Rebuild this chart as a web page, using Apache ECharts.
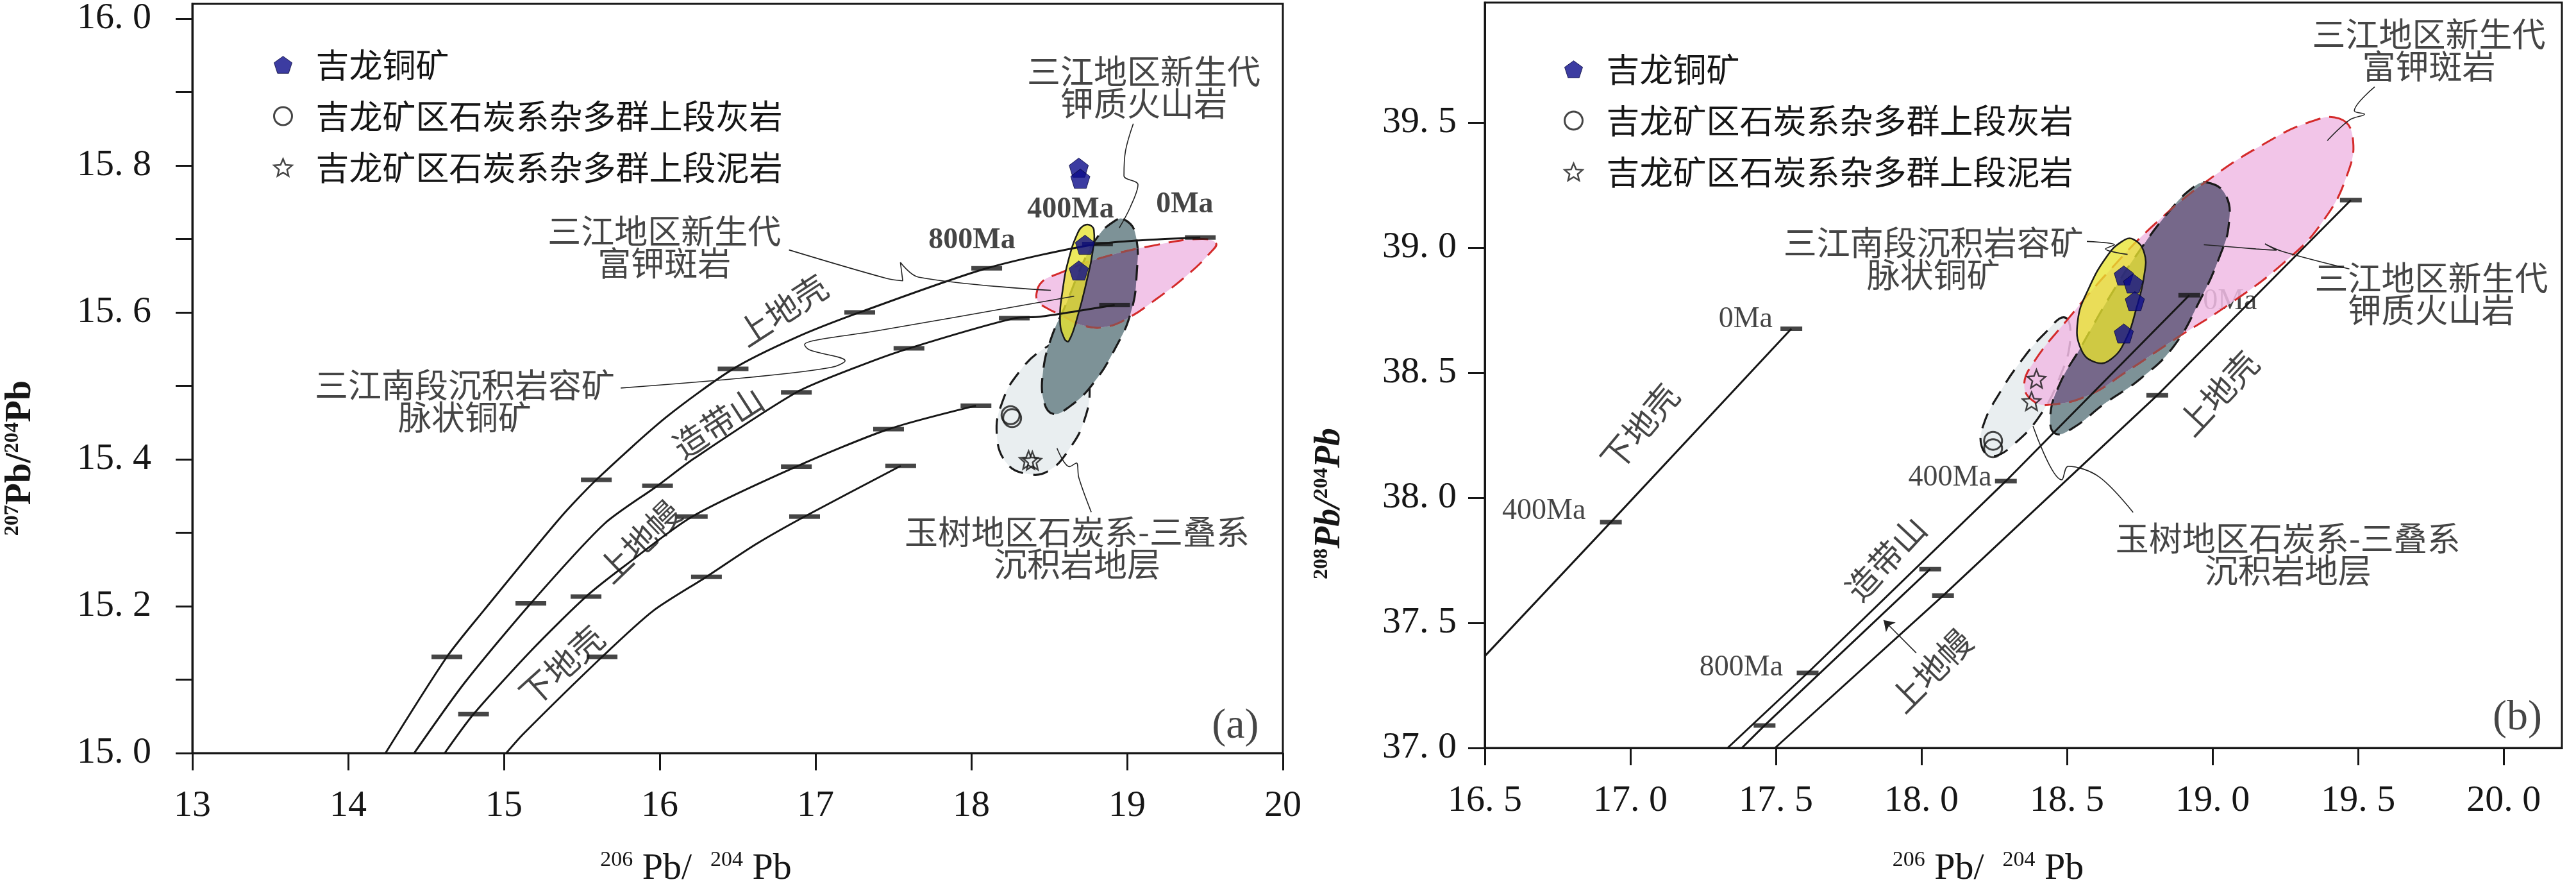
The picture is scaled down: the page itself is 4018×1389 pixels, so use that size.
<!DOCTYPE html>
<html><head><meta charset="utf-8">
<script src="https://cdn.jsdelivr.net/npm/echarts@6/dist/echarts.min.js"></script>
<style>html,body{margin:0;padding:0;background:#fff}#c{width:4018px;height:1389px}</style>
</head><body><div id="c"></div>
<script>
// ---------- tick values ----------
const aXTicks = [13,14,15,16,17,18,19,20];
const aYTicks = [15.0,15.1,15.2,15.3,15.4,15.5,15.6,15.7,15.8,15.9,16.0];
const aYLabels = [15.0,15.2,15.4,15.6,15.8,16.0];
const bXTicks = [16.5,17.0,17.5,18.0,18.5,19.0,19.5,20.0];
const bYTicks = [37.0,37.5,38.0,38.5,39.0,39.5];

// ---------- legend / sample names ----------
const nOre = '吉龙铜矿';
const nLime = '吉龙矿区石炭系杂多群上段灰岩';
const nMud = '吉龙矿区石炭系杂多群上段泥岩';

// ---------- panel (a) 207Pb/204Pb vs 206Pb/204Pb ----------
const aUpperCrust = [[14.24,15.000],[14.634,15.131],[14.87,15.194],[15.356,15.319],[15.593,15.372],[16.04,15.457],[16.471,15.523],[16.877,15.566],[17.284,15.600],[18.099,15.660],[18.81,15.693],[19.47,15.702]];
const aOrogene = [[14.424,15.000],[14.745,15.095],[15.173,15.204],[15.644,15.312],[15.986,15.364],[16.22,15.401],[16.877,15.491],[17.27,15.526],[17.60,15.551],[18.276,15.592],[18.44,15.594],[18.92,15.610]];
const aMantle = [[14.62,15.000],[14.805,15.053],[15.177,15.140],[15.527,15.213],[15.776,15.255],[16.209,15.322],[16.877,15.390],[17.469,15.441],[18.03,15.473]];
const aLowerCrust = [[15.015,15.000],[15.124,15.026],[15.63,15.131],[15.96,15.194],[16.30,15.240],[16.615,15.284],[16.93,15.322],[17.547,15.391]];
const aUpperTicks = [[14.634,15.131],[15.593,15.372],[16.471,15.523],[17.284,15.600],[18.099,15.660],[18.81,15.693],[19.47,15.702]];
const aOrogeneTicks = [[15.173,15.204],[15.986,15.364],[16.877,15.491],[17.60,15.551],[18.276,15.592],[18.92,15.610]];
const aMantleTicks = [[14.805,15.053],[15.527,15.213],[16.209,15.322],[16.877,15.390],[17.469,15.441],[18.03,15.473]];
const aLowerTicks = [[15.63,15.131],[16.30,15.240],[16.93,15.322],[17.547,15.391]];

const aYushu = [[18.608,15.561],[18.721,15.541],[18.759,15.502],[18.730,15.456],[18.626,15.413],[18.494,15.384],[18.362,15.380],[18.230,15.394],[18.164,15.433],[18.201,15.479],[18.305,15.518],[18.456,15.549]];
const aKVolc = [[18.976,15.727],[19.052,15.708],[19.061,15.650],[19.023,15.599],[18.929,15.553],[18.778,15.502],[18.626,15.471],[18.523,15.462],[18.466,15.479],[18.460,15.518],[18.513,15.565],[18.608,15.611],[18.721,15.669],[18.815,15.704],[18.910,15.723]];
const aKPorph = [[18.419,15.626],[18.456,15.642],[18.551,15.652],[18.815,15.673],[19.193,15.692],[19.477,15.700],[19.571,15.694],[19.533,15.681],[19.382,15.650],[19.193,15.619],[19.004,15.592],[18.853,15.580],[18.721,15.582],[18.589,15.595],[18.475,15.607],[18.428,15.615]];
const aSedCu = [[18.759,15.719],[18.787,15.712],[18.778,15.681],[18.740,15.642],[18.683,15.595],[18.626,15.561],[18.598,15.564],[18.570,15.588],[18.589,15.634],[18.626,15.673],[18.683,15.708],[18.721,15.718]];

const aOre = [[18.69,15.797],[18.70,15.782],[18.73,15.692],[18.69,15.657]];
const aLime = [[18.252,15.460],[18.262,15.456]];
const aMud = [[18.368,15.399],[18.392,15.398]];

const aLeaders = [
  [[19.04,15.857],[18.99,15.820],[18.98,15.786],[19.07,15.774],[19.02,15.743],[18.95,15.715]],
  [[16.83,15.685],[17.46,15.646],[17.56,15.643],[17.545,15.668],[17.66,15.648],[18.51,15.630]],
  [[15.75,15.497],[16.60,15.512],[17.10,15.525],[17.19,15.534],[16.96,15.549],[16.93,15.556],[17.00,15.562],[17.40,15.575],[18.66,15.622]],
  [[18.55,15.415],[18.63,15.390],[18.675,15.395],[18.69,15.375],[18.77,15.328]]
];
const aNotes = [
  [19.107,15.906,'三江地区新生代\n钾质火山岩'],
  [16.03,15.689,'三江地区新生代\n富钾斑岩'],
  [14.749,15.479,'三江南段沉积岩容矿\n脉状铜矿'],
  [18.679,15.279,'玉树地区石炭系-三叠系\n沉积岩地层']
];
const aCurveNames = [[16.786,15.603,'上地壳'],[16.374,15.45,'造带山'],[15.868,15.288,'上地幔'],[15.37,15.119,'下地壳']];
const aCurveNameRot = [33,33,44,42];
const aAges = [[18.004,15.698,'800Ma'],[18.638,15.740,'400Ma'],[19.37,15.747,'0Ma']];
const aPanel = [[19.695,15.036,'(a)']];

// ---------- panel (b) 208Pb/204Pb vs 206Pb/204Pb ----------
const bLowerCrust = [[16.5,37.367],[16.933,37.903],[17.553,38.676]];
const bOrogene = [[17.334,37.0],[17.609,37.30],[18.29,38.067],[18.92,38.81]];
const bMantle = [[17.383,37.0],[17.461,37.09],[18.03,37.715]];
const bUpperCrust = [[17.497,37.0],[18.074,37.609],[18.81,38.41],[19.475,39.19]];
const bLowerTicks = [[16.933,37.903],[17.553,38.676]];
const bOrogeneTicks = [[17.609,37.30],[18.29,38.067],[18.92,38.81]];
const bMantleTicks = [[17.461,37.09],[18.03,37.715]];
const bUpperTicks = [[18.074,37.609],[18.81,38.41],[19.475,39.19]];

const bYushu = [[18.492,38.721],[18.511,38.631],[18.473,38.476],[18.410,38.334],[18.321,38.218],[18.245,38.166],[18.207,38.205],[18.214,38.295],[18.271,38.424],[18.347,38.554],[18.423,38.657]];
const bKVolc = [[18.980,39.261],[19.044,39.212],[19.056,39.096],[19.025,38.967],[18.955,38.786],[18.866,38.605],[18.752,38.476],[18.625,38.373],[18.524,38.282],[18.461,38.256],[18.442,38.321],[18.473,38.450],[18.549,38.605],[18.651,38.812],[18.752,38.993],[18.853,39.148],[18.930,39.238]];
const bKPorph = [[19.436,39.516],[19.481,39.445],[19.462,39.290],[19.373,39.096],[19.246,38.941],[19.056,38.773],[18.866,38.631],[18.701,38.502],[18.575,38.411],[18.448,38.373],[18.385,38.386],[18.353,38.450],[18.385,38.541],[18.499,38.709],[18.651,38.915],[18.803,39.096],[18.993,39.277],[19.183,39.419],[19.335,39.503]];
const bSedCu = [[18.727,39.034],[18.765,38.980],[18.765,38.889],[18.739,38.760],[18.701,38.631],[18.651,38.554],[18.600,38.541],[18.549,38.592],[18.537,38.709],[18.575,38.838],[18.638,38.967],[18.689,39.025]];

const bOre = [[18.695,38.889],[18.727,38.857],[18.733,38.786],[18.695,38.657]];
const bLime = [[18.246,38.228],[18.246,38.198]];
const bMud = [[18.395,38.476],[18.378,38.386]];

const bLeaders = [
  [[19.557,39.643],[19.487,39.547],[19.522,39.534],[19.471,39.511],[19.394,39.428]],
  [[19.47,38.915],[19.24,38.985],[19.18,39.015],[19.22,38.99],[19.15,38.995],[18.97,39.012]],
  [[18.568,39.025],[18.663,39.012],[18.632,38.995],[18.708,38.973]],
  [[18.383,38.287],[18.482,38.072],[18.504,38.126],[18.61,38.084],[18.727,37.942]]
];
const bArrow = [[17.982,37.380],[17.870,37.511]];
const bNotes = [
  [19.743,39.79,'三江地区新生代\n富钾斑岩'],
  [19.752,38.815,'三江地区新生代\n钾质火山岩'],
  [18.041,38.957,'三江南段沉积岩容矿\n脉状铜矿'],
  [19.259,37.775,'玉树地区石炭系-三叠系\n沉积岩地层']
];
const bCurveNames = [[17.032,38.283,'下地壳'],[17.877,37.757,'造带山'],[18.032,37.309,'上地幔'],[19.019,38.418,'上地壳']];
const bCurveNameRot = [50,47,45,47];
const bAges = [[17.396,38.714,'0Ma'],[16.703,37.947,'400Ma'],[17.381,37.322,'800Ma'],[18.098,38.081,'400Ma'],[19.06,38.785,'0Ma']];
const bPanel = [[20.047,37.119,'(b)']];

// ---------- styling ----------
const SERIF = "'Liberation Serif','Times New Roman',serif";
const CJK = "'Noto Sans CJK SC','Noto Sans CJK JP',sans-serif";
const INK = '#161616';
const PENT = 'path://M0,-10L9.51,-3.09L5.88,8.09L-5.88,8.09L-9.51,-3.09Z';
const STAR = 'path://M0,-10L2.645,-3.64L9.51,-3.09L4.28,1.39L5.88,8.09L0,4.5L-5.88,8.09L-4.28,1.39L-9.51,-3.09L-2.645,-3.64Z';
const oreStyle = {color:'#0b0b8a', borderColor:'#04043a', borderWidth:1};
const limeStyle = {color:'rgba(255,255,255,0)', borderColor:INK, borderWidth:3};
const mudStyle = {color:'rgba(255,255,255,0)', borderColor:INK, borderWidth:2.5};
const SMOOTH = 0.45;

function fmtDot(v){ return v.toFixed(1).replace('.', '. '); }
function near(arr, v){ return arr.some(t => Math.abs(t - v) < 1e-6); }

function xAxisOf(gi, min, max, interval, ticks, fmt, nameGap, shiftW){
  return {
    gridIndex: gi, type:'value', min, max, interval,
    axisLine:{show:true, onZero:false, lineStyle:{color:INK, width:3}},
    axisTick:{show:true, inside:false, length:27, lineStyle:{color:INK, width:3}, customValues: ticks},
    axisLabel:{show:true, margin:54, color:INK, fontSize:58, fontFamily:SERIF, customValues: ticks,
      formatter: v => near(ticks, v) ? fmt(v) : ''},
    splitLine:{show:false},
    name:'{s|206}{n| Pb/  }{s|204}{n| Pb}{g| }', nameLocation:'middle', nameGap,
    nameTextStyle:{color:INK, rich:{
      s:{fontSize:34, fontFamily:SERIF, color:INK, verticalAlign:'top', lineHeight:30},
      n:{fontSize:58, fontFamily:SERIF, color:INK, lineHeight:62},
      g:{width:shiftW, fontSize:10, lineHeight:10, color:'rgba(0,0,0,0)'}}}
  };
}
function yAxisOf(gi, min, max, interval, ticks, labels, margin, sup, nameGap, padR, italic){
  return {
    gridIndex: gi, type:'value', min, max, interval,
    axisLine:{show:true, onZero:false, lineStyle:{color:INK, width:3}},
    axisTick:{show:true, inside:false, length:26, lineStyle:{color:INK, width:3}, customValues: ticks},
    axisLabel:{show:true, margin, color:INK, fontSize:58, fontFamily:SERIF, customValues: labels,
      formatter: v => near(labels, v) ? fmtDot(v) : ''},
    splitLine:{show:false},
    name:'{s|' + sup + '}{n|Pb/}{s|204}{n|Pb}', nameLocation:'middle', nameRotate:90, nameGap,
    nameTextStyle:{color:INK, padding:[0,padR,0,0], rich:{
      s:{fontSize:32, fontFamily:SERIF, fontWeight:'bold', color:INK, verticalAlign:'top', lineHeight:28},
      n:{fontSize:56, fontFamily:SERIF, fontWeight:'bold', fontStyle: italic ? 'italic' : 'normal', color:INK, lineHeight:58}}}
  };
}

function curve(gi, pts, smooth){
  return {type:'line', xAxisIndex:gi, yAxisIndex:gi, data:pts, showSymbol:false, symbol:'none', smooth,
    lineStyle:{color:INK, width:3}, silent:true, z:11, clip:true};
}
function leader(gi, pts){
  return {type:'line', xAxisIndex:gi, yAxisIndex:gi, data:pts, showSymbol:false, symbol:'none', smooth:0.35,
    lineStyle:{color:'#222', width:1.6}, silent:true, z:12};
}
function tickBars(gi, pts, w){
  return {type:'scatter', xAxisIndex:gi, yAxisIndex:gi, data:pts, symbol:'rect', symbolSize:[w,7],
    itemStyle:{color:INK}, silent:true, z:11};
}
function shape(gi, pts, style, z, clipPts){
  return {type:'custom', xAxisIndex:gi, yAxisIndex:gi, coordinateSystem:'cartesian2d', silent:true, z,
    data:[pts[0]],
    renderItem: (params, api) => {
      const el = {type:'polygon', shape:{points: pts.map(p => api.coord(p)), smooth:SMOOTH},
        style: Object.assign({}, style)};
      if (clipPts) el.clipPath = {type:'polygon', shape:{points: clipPts.map(p => api.coord(p)), smooth:SMOOTH}};
      return el;
    }};
}
function texts(gi, items, lab, rots, z){
  return {type:'scatter', xAxisIndex:gi, yAxisIndex:gi, symbolSize:1, silent:true, z: z || 20,
    itemStyle:{color:'rgba(0,0,0,0)'},
    data: items.map((d,i) => ({value:[d[0],d[1]], label:{formatter:d[2], rotate: rots ? rots[i] : 0}})),
    label: Object.assign({show:true, position:'inside', color:INK, align:'center', verticalAlign:'middle'}, lab)};
}
function samples(gi){
  const o = gi === 0 ? aOre : bOre, l = gi === 0 ? aLime : bLime, m = gi === 0 ? aMud : bMud;
  return [
    {name:nOre, type:'scatter', xAxisIndex:gi, yAxisIndex:gi, data:o, symbol:PENT, symbolSize:30, itemStyle:oreStyle, z:16},
    {name:nLime, type:'scatter', xAxisIndex:gi, yAxisIndex:gi, data:l, symbol:'circle', symbolSize:28, itemStyle:limeStyle, z:16},
    {name:nMud, type:'scatter', xAxisIndex:gi, yAxisIndex:gi, data:m, symbol:STAR, symbolSize:28, itemStyle:mudStyle, z:16}
  ];
}

const grayFill = {fill:'#e9eef0', stroke:'#1a1a1a', lineWidth:3.2, lineDash:[24,16]};
const slateFill = {fill:'#7d9297', stroke:'#1a1a1a', lineWidth:3.2, lineDash:[24,16]};
const pinkFill = {fill:'rgba(240,188,228,0.86)', stroke:'#d42a2a', lineWidth:3, lineDash:[24,14]};
const overlapFill = {fill:'#76688a', stroke:'#1a1a1a', lineWidth:3.2, lineDash:[24,16]};
const pinkEdgeOnSlate = {fill:'rgba(0,0,0,0)', stroke:'#9a4a48', lineWidth:3, lineDash:[24,14]};
const yellowFill = {fill:'rgba(232,228,48,0.78)', stroke:'#1a1a1a', lineWidth:2.5};

const noteLab = {fontSize:52, fontFamily:CJK, lineHeight:50};
const curveLab = {fontSize:52, fontFamily:CJK};
const legendData = [
  {name:nOre, icon:PENT, itemStyle:oreStyle},
  {name:nLime, icon:'circle', itemStyle:{color:'#fff', borderColor:INK, borderWidth:3}},
  {name:nMud, icon:STAR, itemStyle:{color:'#fff', borderColor:INK, borderWidth:2.5}}
];
function legendAt(left, top){
  return {orient:'vertical', left, top, itemWidth:28, itemHeight:28, itemGap:28, selectedMode:false,
    data: legendData, textStyle:{fontSize:52, fontFamily:CJK, color:INK, lineHeight:50, padding:[0,0,0,32]}};
}

function panelShapes(gi, yushu, kvolc, kporph, sedcu){
  return [
    shape(gi, yushu, grayFill, 6),
    shape(gi, kvolc, slateFill, 7),
    shape(gi, kporph, pinkFill, 8),
    shape(gi, kvolc, overlapFill, 8.5, kporph),
    shape(gi, kporph, pinkEdgeOnSlate, 8.6, kvolc),
    shape(gi, sedcu, yellowFill, 9)
  ];
}

const series = [
  // panel a
  curve(0, aUpperCrust, 0.25), curve(0, aOrogene, 0.25), curve(0, aMantle, 0.25), curve(0, aLowerCrust, 0.25),
  tickBars(0, aUpperTicks, 48), tickBars(0, aOrogeneTicks, 48), tickBars(0, aMantleTicks, 48), tickBars(0, aLowerTicks, 48),
  ...panelShapes(0, aYushu, aKVolc, aKPorph, aSedCu),
  ...aLeaders.map(p => leader(0, p)),
  texts(0, aNotes, noteLab), texts(0, aCurveNames, curveLab, aCurveNameRot),
  texts(0, aAges, {fontSize:46, fontFamily:SERIF, fontWeight:'bold'}, null, 5),
  texts(0, aPanel, {fontSize:66, fontFamily:SERIF}),
  ...samples(0),
  // panel b
  curve(1, bLowerCrust, false), curve(1, bOrogene, false), curve(1, bMantle, false), curve(1, bUpperCrust, false),
  tickBars(1, bLowerTicks, 34), tickBars(1, bOrogeneTicks, 34), tickBars(1, bMantleTicks, 34), tickBars(1, bUpperTicks, 34),
  ...panelShapes(1, bYushu, bKVolc, bKPorph, bSedCu),
  ...bLeaders.map(p => leader(1, p)),
  {type:'lines', coordinateSystem:'cartesian2d', xAxisIndex:1, yAxisIndex:1, silent:true, z:12,
    symbol:['none','arrow'], symbolSize:16, lineStyle:{color:'#222', width:1.6, opacity:1},
    data:[{coords:bArrow}]},
  texts(1, bNotes, noteLab), texts(1, bCurveNames, curveLab, bCurveNameRot),
  texts(1, bAges, {fontSize:46, fontFamily:SERIF}, null, 5),
  texts(1, bPanel, {fontSize:66, fontFamily:SERIF}),
  ...samples(1)
];

const option = {
  animation:false,
  backgroundColor:'#ffffff',
  grid:[
    {left:300, top:4, width:1701, height:1174, show:true, borderColor:INK, borderWidth:3, backgroundColor:'rgba(0,0,0,0)', containLabel:false},
    {left:2316, top:4, width:1680, height:1178, show:true, borderColor:INK, borderWidth:3, backgroundColor:'rgba(0,0,0,0)', containLabel:false}
  ],
  legend:[legendAt(421, 70), legendAt(2434, 77)],
  xAxis:[
    xAxisOf(0, 13, 20, 1, aXTicks, v => String(v), 150, 130),
    xAxisOf(1, 16.5, 20.2, 0.5, bXTicks, v => fmtDot(v), 158, 110)
  ],
  yAxis:[
    yAxisOf(0, 15.0, 16.02, 0.1, aYTicks, aYLabels, 64, '207', 238, 248, false),
    yAxisOf(1, 37.0, 39.98, 0.5, bYTicks, bYTicks, 44, '208', 212, 400, true)
  ],
  series
};
const chart = echarts.init(document.getElementById('c'), null, {renderer:'canvas'});
chart.setOption(option);
</script></body></html>
